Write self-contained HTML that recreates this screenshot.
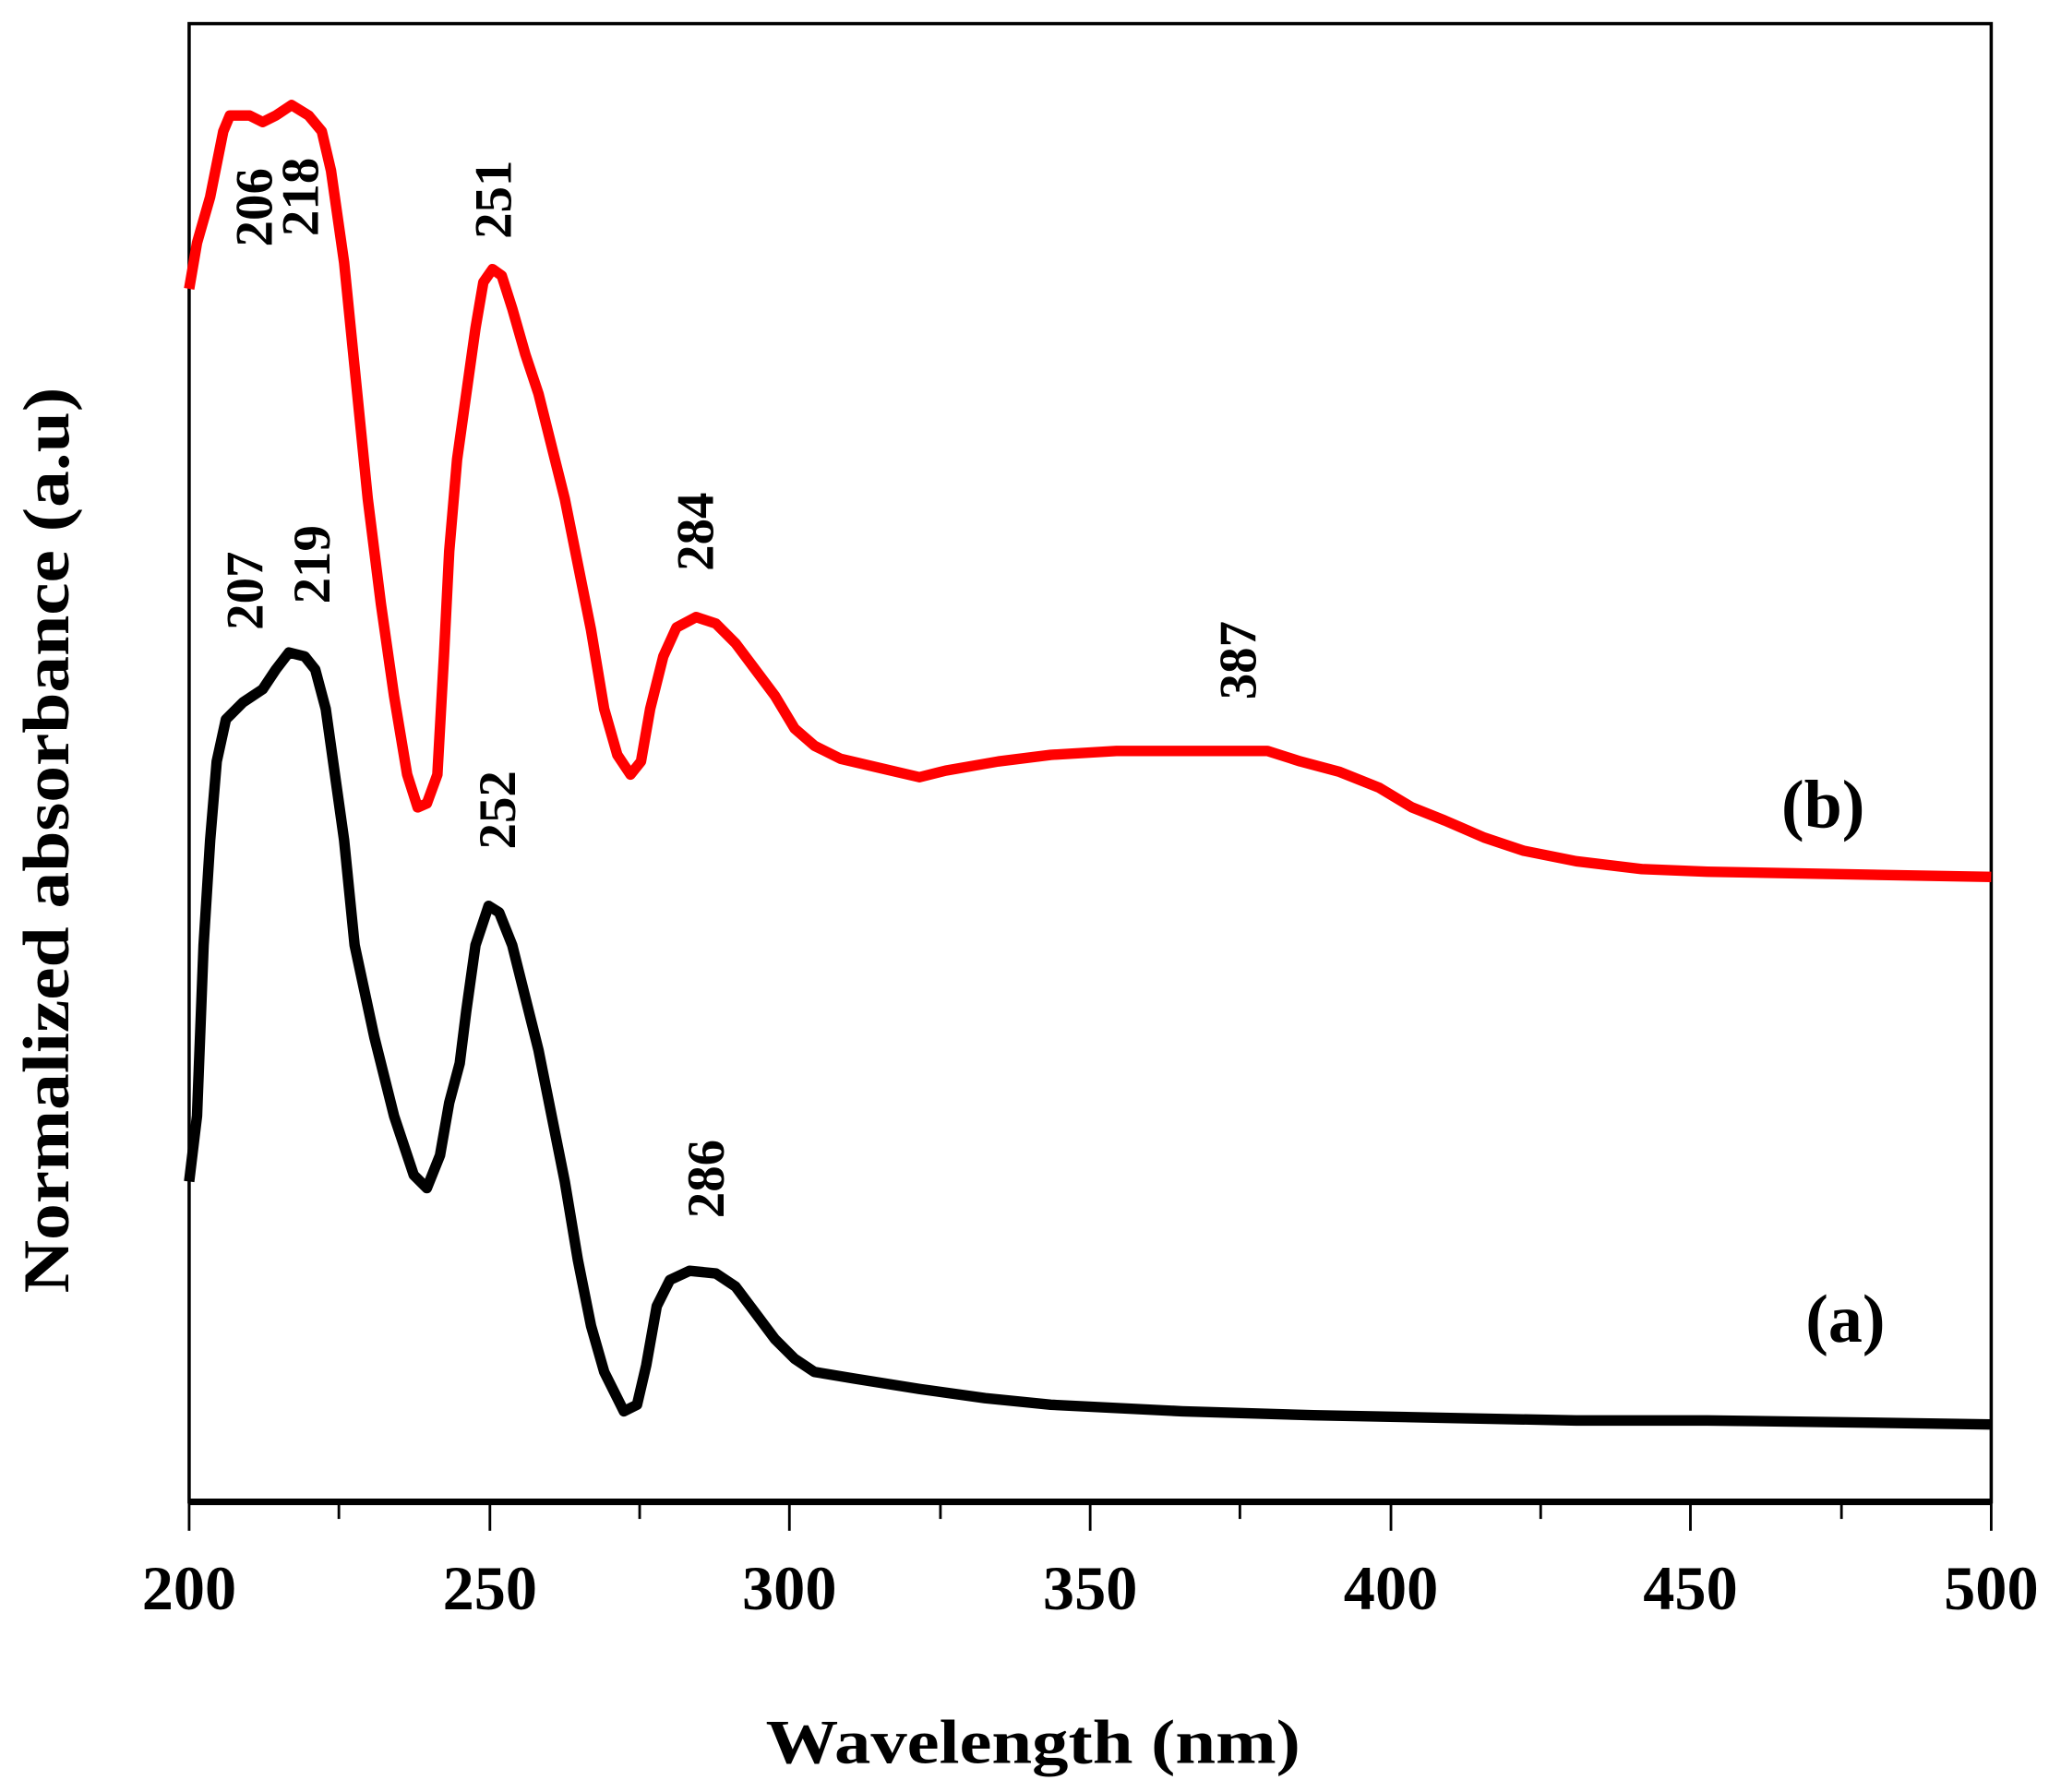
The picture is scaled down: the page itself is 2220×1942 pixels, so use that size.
<!DOCTYPE html>
<html><head><meta charset="utf-8"><style>html,body{margin:0;padding:0;background:#fff}svg{display:block}</style></head>
<body>
<svg width="2220" height="1942" viewBox="0 0 1560 1365" preserveAspectRatio="none" xmlns="http://www.w3.org/2000/svg" font-family="Liberation Serif, serif" font-weight="bold">
<rect width="1560" height="1365" fill="#fff"/>
<rect x="144" y="18" width="1372" height="1126" fill="none" stroke="#000" stroke-width="2.5"/>
<line x1="144" y1="1144" x2="1516" y2="1144" stroke="#000" stroke-width="5"/>
<g stroke="#000" stroke-width="2">
<line x1="144" y1="1144" x2="144" y2="1166"/><line x1="258" y1="1144" x2="258" y2="1157"/>
<line x1="373" y1="1144" x2="373" y2="1166"/><line x1="487" y1="1144" x2="487" y2="1157"/>
<line x1="601" y1="1144" x2="601" y2="1166"/><line x1="716" y1="1144" x2="716" y2="1157"/>
<line x1="830" y1="1144" x2="830" y2="1166"/><line x1="944" y1="1144" x2="944" y2="1157"/>
<line x1="1059" y1="1144" x2="1059" y2="1166"/><line x1="1173" y1="1144" x2="1173" y2="1157"/>
<line x1="1287" y1="1144" x2="1287" y2="1166"/><line x1="1402" y1="1144" x2="1402" y2="1157"/>
<line x1="1516" y1="1144" x2="1516" y2="1166"/>
</g>
<g font-size="48" text-anchor="middle">
<text x="144" y="1226">200</text><text x="373" y="1226">250</text><text x="601" y="1226">300</text>
<text x="830" y="1226">350</text><text x="1059" y="1226">400</text><text x="1287" y="1226">450</text><text x="1516" y="1226">500</text>
</g>
<text x="583" y="1343" font-size="48" textLength="407" lengthAdjust="spacingAndGlyphs">Wavelength (nm)</text>
<text transform="translate(52,985) rotate(-90)" font-size="50" textLength="690" lengthAdjust="spacingAndGlyphs">Normalized absorbance (a.u)</text>
<polyline fill="none" stroke="#ff0000" stroke-width="8" stroke-linejoin="round" points="144,220 150,185 160,150 170,100 175,88 190,88 200,93 210,88 222,80 235,88 245,100 252,130 262,200 270,280 280,380 290,460 300,530 310,590 318,615 325,612 333,590 338,500 342,420 348,350 355,300 362,250 368,215 375,205 382,210 390,235 400,270 410,300 420,340 430,380 440,430 450,480 460,540 470,575 480,590 488,580 495,540 505,500 515,478 530,470 545,475 560,490 575,510 590,530 605,555 620,568 640,578 670,585 700,592 720,587 760,580 800,575 850,572 900,572 965,572 990,580 1020,588 1050,600 1075,615 1100,625 1130,638 1160,648 1200,656 1250,662 1300,664 1516,668"/>
<polyline fill="none" stroke="#000" stroke-width="8" stroke-linejoin="round" points="144,900 150,850 155,720 160,640 165,580 172,548 185,535 200,525 210,510 220,497 232,500 240,510 248,540 255,590 262,640 270,720 285,790 300,850 315,895 325,905 335,880 342,840 350,810 355,770 362,720 372,690 380,695 390,720 400,760 410,800 420,850 430,900 440,960 450,1010 460,1045 475,1075 485,1070 492,1040 500,995 510,975 525,968 545,970 560,980 575,1000 590,1020 605,1035 620,1045 650,1050 700,1058 750,1065 800,1070 900,1075 1000,1078 1100,1080 1200,1082 1300,1082 1376,1083 1516,1085"/>
<g font-size="40" text-anchor="middle">
<text transform="translate(207,158) rotate(-90)">206</text>
<text transform="translate(242,150) rotate(-90)">218</text>
<text transform="translate(389,152) rotate(-90)">251</text>
<text transform="translate(543,405) rotate(-90)">284</text>
<text transform="translate(956,503) rotate(-90)">387</text>
<text transform="translate(200,450) rotate(-90)">207</text>
<text transform="translate(251,430) rotate(-90)">219</text>
<text transform="translate(392,617) rotate(-90)">252</text>
<text transform="translate(551,898) rotate(-90)">286</text>
</g>
<text x="1388" y="630" font-size="52" text-anchor="middle">(b)</text>
<text x="1405" y="1022" font-size="52" text-anchor="middle">(a)</text>
</svg>
</body></html>
